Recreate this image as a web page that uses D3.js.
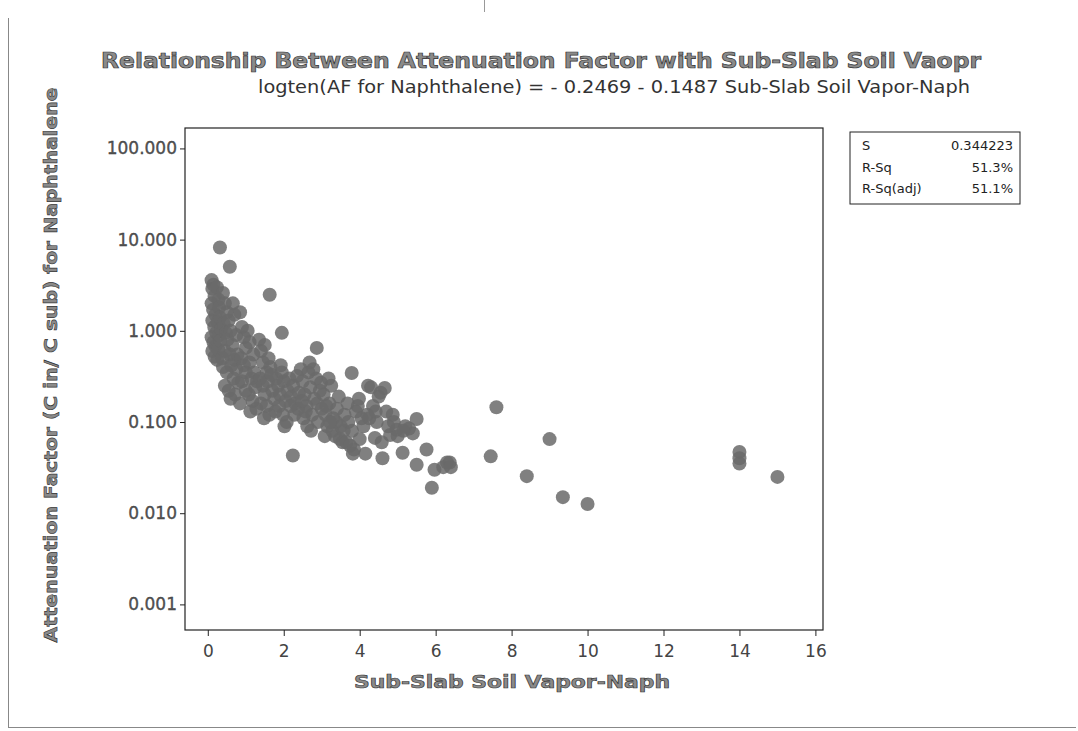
<!DOCTYPE html>
<html>
<head>
<meta charset="utf-8">
<script src="https://cdn.jsdelivr.net/npm/d3@7"></script>
<style>
  html, body { margin: 0; padding: 0; background: #fff; }
  svg { display: block; }
</style>
</head>
<body>
<svg id="chart" width="1078" height="731"></svg>
<script>
// ---------- data ----------
const chartTitle = "Relationship Between Attenuation Factor with Sub-Slab Soil Vaopr";
const chartSubtitle = "logten(AF for Naphthalene) =  - 0.2469 - 0.1487 Sub-Slab Soil Vapor-Naph";
const xAxisTitle = "Sub-Slab Soil Vapor-Naph";
const yAxisTitle = "Attenuation Factor (C in/ C sub) for Naphthalene";
const xTicks = [0, 2, 4, 6, 8, 10, 12, 14, 16];
const yTicks = [100, 10, 1, 0.1, 0.01, 0.001];
const statLabels = ["S", "R-Sq", "R-Sq(adj)"];
const statValues = ["0.344223", "51.3%", "51.1%"];

// [Sub-Slab Soil Vapor-Naph, Attenuation Factor]
const clusterPoints = [
  [0.10,3.6],[0.12,2.9],[0.15,3.2],[0.18,2.4],[0.10,2.0],[0.14,1.7],[0.20,1.5],[0.12,1.3],
  [0.17,1.1],[0.22,0.95],[0.10,0.85],[0.15,0.75],[0.20,0.68],[0.12,0.6],[0.18,0.52],[0.25,0.48],
  [0.28,2.2],[0.30,1.8],[0.26,1.25],[0.30,0.9],[0.24,3.0],[0.28,0.62],[0.32,1.4],[0.35,1.05],[0.33,0.78],
  [0.40,2.6],[0.45,2.0],[0.50,1.6],[0.42,1.2],[0.55,1.3],[0.48,0.95],[0.60,1.0],[0.52,0.8],
  [0.65,0.7],[0.45,0.6],[0.58,0.55],[0.70,0.48],[0.40,0.40],[0.50,0.35],[0.62,0.42],[0.75,0.38],
  [0.45,0.25],[0.55,0.22],[0.68,0.3],[0.80,0.27],[0.60,0.18],[0.72,0.2],[0.78,0.55],[0.38,0.5],
  [0.66,2.0],[0.70,1.5],[0.75,0.9],
  [0.85,1.6],[0.90,1.1],[0.95,0.85],[1.00,0.65],[1.05,1.0],[1.10,0.75],[0.88,0.5],[0.95,0.42],
  [1.00,0.35],[1.10,0.45],[1.15,0.3],[1.20,0.55],[0.90,0.28],[1.00,0.22],[1.08,0.2],[1.18,0.17],
  [1.25,0.24],[0.85,0.16],[1.22,0.35],[1.28,0.14],[1.12,0.13],[1.30,0.28],
  [1.35,0.8],[1.40,0.6],[1.45,0.45],[1.50,0.7],[1.55,0.35],[1.60,0.5],[1.38,0.3],[1.45,0.25],
  [1.50,0.2],[1.58,0.28],[1.65,0.4],[1.70,0.22],[1.40,0.16],[1.55,0.15],[1.62,0.12],[1.75,0.18],
  [1.80,0.3],[1.68,0.33],[1.48,0.11],[1.78,0.13],
  [1.85,0.25],[1.90,0.2],[1.95,0.35],[2.00,0.28],[2.05,0.17],[2.10,0.22],[2.15,0.3],[1.88,0.15],
  [1.98,0.12],[2.08,0.1],[2.20,0.19],[2.25,0.25],[2.30,0.16],[2.35,0.32],[2.40,0.21],[1.92,0.42],
  [2.02,0.09],[2.28,0.12],[2.38,0.14],[2.45,0.38],[2.18,0.15],
  [2.50,0.28],[2.55,0.2],[2.60,0.15],[2.65,0.35],[2.70,0.24],[2.75,0.12],[2.80,0.18],[2.85,0.3],
  [2.90,0.1],[2.95,0.22],[3.00,0.14],[2.52,0.11],[2.62,0.09],[2.72,0.08],[2.58,0.13],[2.88,0.16],
  [2.98,0.27],[2.68,0.45],[2.78,0.38],[2.48,0.17],
  [3.05,0.2],[3.10,0.12],[3.15,0.09],[3.20,0.16],[3.25,0.25],[3.30,0.11],[3.35,0.07],[3.40,0.14],
  [3.45,0.19],[3.50,0.09],[3.55,0.06],[3.60,0.12],[3.08,0.07],[3.18,0.3],[3.28,0.08],[3.38,0.1],
  [3.48,0.065],[3.12,0.15],[3.58,0.08],[3.22,0.1],
  [3.65,0.06],[3.70,0.1],[3.75,0.055],[3.80,0.08],[3.85,0.05],[3.90,0.13],[3.95,0.15],[4.00,0.065],
  [4.05,0.11],[4.10,0.09],[4.15,0.045],[3.68,0.16],[3.98,0.18],[4.20,0.12],[3.82,0.045],
  [4.22,0.25],[4.30,0.24],[4.35,0.15],[4.40,0.067],[4.45,0.1],[4.50,0.19],[4.55,0.21],[4.60,0.04],
  [4.66,0.236],[4.70,0.13],[4.75,0.09],[4.80,0.072],[4.87,0.12],[4.90,0.1],[4.97,0.082],[4.25,0.11],
  [4.42,0.13],[4.58,0.06],
  [5.00,0.07],[5.13,0.046],[5.20,0.09],[5.30,0.085],[5.40,0.075],[5.50,0.108],[5.50,0.034],[5.76,0.05],
  [5.97,0.03],[5.90,0.019],[6.20,0.032],[6.30,0.036],[6.37,0.036],[6.40,0.032],[5.15,0.08]
];
const outlierPoints = [
  [0.32,8.2],[0.58,5.05],[1.63,2.49],[1.95,0.95],[2.87,0.65],[3.79,0.345],[2.24,0.043],
  [7.60,0.145],[9.00,0.065],[7.45,0.042],[8.40,0.0255],[9.35,0.015],[10.00,0.0126],
  [14.00,0.047],[14.00,0.040],[14.00,0.035],[15.00,0.025]
];

// ---------- layout ----------
const svg = d3.select("#chart");
const plot = { left: 185, right: 823, top: 128, bottom: 630 };
const font = "'DejaVu Sans', Verdana, sans-serif";

const x = d3.scaleLinear().domain([-0.6, 16.2]).range([plot.left, plot.right]);
const y = d3.scaleLog().domain([0.000524, 167.5]).range([plot.bottom, plot.top]);

// outer page border
svg.append("line").attr("x1", 8.5).attr("x2", 8.5).attr("y1", 18).attr("y2", 727)
  .attr("stroke", "#888").attr("stroke-width", 1);
svg.append("line").attr("x1", 8).attr("x2", 1076).attr("y1", 727.5).attr("y2", 727.5)
  .attr("stroke", "#888").attr("stroke-width", 1);
svg.append("line").attr("x1", 484.5).attr("x2", 484.5).attr("y1", 0).attr("y2", 12)
  .attr("stroke", "#999").attr("stroke-width", 1);

// titles
svg.append("text").attr("x", 541).attr("y", 62)
  .attr("text-anchor", "middle").attr("dominant-baseline", "middle")
  .attr("font-family", font).attr("font-weight", "bold").attr("font-size", 21)
  .attr("textLength", 880).attr("lengthAdjust", "spacingAndGlyphs")
  .attr("fill", "#8a8a8a").attr("stroke", "#333").attr("stroke-width", 0.7)
  .text(chartTitle);
svg.append("text").attr("x", 614).attr("y", 88)
  .attr("text-anchor", "middle").attr("dominant-baseline", "middle")
  .attr("font-family", font).attr("font-size", 17)
  .attr("textLength", 712).attr("lengthAdjust", "spacingAndGlyphs")
  .attr("fill", "#333")
  .text(chartSubtitle);

// plot frame
svg.append("rect").attr("x", plot.left).attr("y", plot.top)
  .attr("width", plot.right - plot.left).attr("height", plot.bottom - plot.top)
  .attr("fill", "none").attr("stroke", "#222").attr("stroke-width", 1.2);

// axes
const yAxis = d3.axisLeft(y).tickValues(yTicks).tickFormat(d3.format(".3f")).tickSize(5).tickPadding(3);
const gy = svg.append("g").attr("transform", `translate(${plot.left},0)`).call(yAxis);
gy.select(".domain").remove();
gy.selectAll("line").attr("stroke", "#222");
gy.selectAll("text").attr("font-family", font).attr("font-size", 17).attr("fill", "#555")
  .attr("stroke", "#333").attr("stroke-width", 0.3);

const xAxis = d3.axisBottom(x).tickValues(xTicks).tickFormat(d3.format("d")).tickSize(6).tickPadding(9);
const gx = svg.append("g").attr("transform", `translate(0,${plot.bottom})`).call(xAxis);
gx.select(".domain").remove();
gx.selectAll("line").attr("stroke", "#222");
gx.selectAll("text").attr("font-family", font).attr("font-size", 17).attr("fill", "#444");

// axis titles
svg.append("text").attr("x", 512).attr("y", 683)
  .attr("text-anchor", "middle").attr("dominant-baseline", "middle")
  .attr("font-family", font).attr("font-weight", "bold").attr("font-size", 17)
  .attr("textLength", 316).attr("lengthAdjust", "spacingAndGlyphs")
  .attr("fill", "#8a8a8a").attr("stroke", "#333").attr("stroke-width", 0.6)
  .text(xAxisTitle);
svg.append("text")
  .attr("transform", `translate(52,365) rotate(-90)`)
  .attr("text-anchor", "middle").attr("dominant-baseline", "middle")
  .attr("font-family", font).attr("font-weight", "bold").attr("font-size", 17)
  .attr("textLength", 555).attr("lengthAdjust", "spacingAndGlyphs")
  .attr("fill", "#8a8a8a").attr("stroke", "#333").attr("stroke-width", 0.6)
  .text(yAxisTitle);

// points
const allPoints = clusterPoints.concat(outlierPoints);
svg.append("g").selectAll("circle").data(allPoints).join("circle")
  .attr("cx", d => x(d[0])).attr("cy", d => y(d[1])).attr("r", 7)
  .attr("fill", "#6a6a6a").attr("fill-opacity", 0.85);

// stats box
const box = { x: 850, y: 132, w: 170, h: 72 };
svg.append("rect").attr("x", box.x).attr("y", box.y).attr("width", box.w).attr("height", box.h)
  .attr("fill", "#fff").attr("stroke", "#222").attr("stroke-width", 1);
const rowY = d3.scaleBand().domain(statLabels).range([box.y + 4, box.y + box.h - 4]);
svg.append("g").selectAll("text.lab").data(statLabels).join("text")
  .attr("x", box.x + 12).attr("y", d => rowY(d) + rowY.bandwidth() / 2)
  .attr("dominant-baseline", "middle").attr("font-family", font).attr("font-size", 13)
  .attr("fill", "#222").text(d => d);
svg.append("g").selectAll("text.val").data(statValues).join("text")
  .attr("x", box.x + box.w - 7).attr("y", (d, i) => rowY(statLabels[i]) + rowY.bandwidth() / 2)
  .attr("text-anchor", "end")
  .attr("dominant-baseline", "middle").attr("font-family", font).attr("font-size", 13)
  .attr("fill", "#222").text(d => d);
</script>
</body>
</html>
